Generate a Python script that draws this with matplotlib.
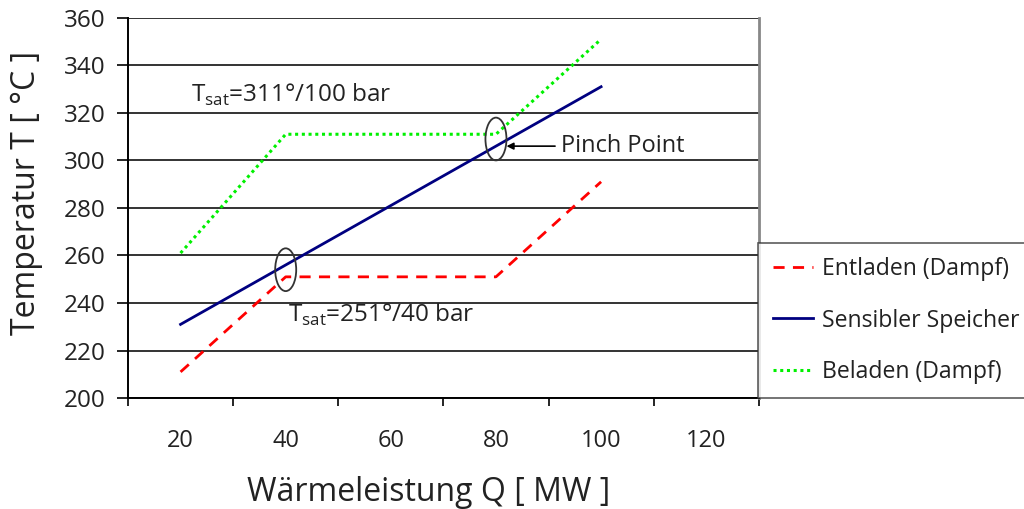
import matplotlib.pyplot as plt
from matplotlib.patches import Ellipse

plt.rcParams['font.family'] = ['Open Sans', 'DejaVu Sans']

# data
q_entladen = [20, 40, 80, 100]
t_entladen = [211, 251, 251, 291]
q_speicher = [20, 100]
t_speicher = [231, 331]
q_beladen = [20, 40, 80, 100]
t_beladen = [261, 311, 311, 351]

x_labels = [20, 40, 60, 80, 100, 120]
y_ticks = [200, 220, 240, 260, 280, 300, 320, 340, 360]

fig = plt.figure(figsize=(10.24, 5.09), dpi=100)
ax = fig.add_axes([0.125, 0.218, 0.616, 0.747])

ax.plot(q_entladen, t_entladen, color="#ff0000", lw=2, ls=(0, (4, 3)),
        label="Entladen (Dampf)", zorder=3)
ax.plot(q_speicher, t_speicher, color="#000080", lw=2,
        label="Sensibler Speicher", zorder=3)
ax.plot(q_beladen, t_beladen, color="#00f000", lw=2.2, ls=(0, (1, 1.2)),
        label="Beladen (Dampf)", zorder=3)

ax.set_xlim(10, 130)
ax.set_ylim(200, 360)
ax.set_yticks(y_ticks)
ax.set_xticks(range(10, 131, 20))
ax.set_xticklabels([])
ax.set_xticks(x_labels, minor=True)
ax.set_xticklabels([str(v) for v in x_labels], minor=True)
ax.tick_params(axis="x", which="minor", length=0, pad=22, labelsize=17)
ax.tick_params(axis="x", which="major", length=6, width=1.2, direction="out")
ax.tick_params(axis="y", length=8, width=1.2, direction="out", labelsize=17.5,
               pad=8)
ax.tick_params(colors="black", which="both", labelcolor="#222222")

ax.yaxis.grid(True, color="#333333", lw=1.4)
ax.set_axisbelow(True)
ax.spines["top"].set_visible(False)
ax.spines["right"].set_color("#888888")
ax.spines["right"].set_linewidth(2)
ax.spines["left"].set_linewidth(1.4)
ax.spines["bottom"].set_linewidth(1.4)

ax.set_xlabel("Wärmeleistung Q [ MW ]", fontsize=23, color="#222222")
ax.set_ylabel("Temperatur T [ °C ]", fontsize=23, color="#222222")
ax.xaxis.set_label_coords(0.476, -0.205)
ax.yaxis.set_label_coords(-0.135, 0.54)

# annotations
ax.add_patch(Ellipse((80, 309), 4, 18, fill=False, ec="#333333", lw=1.3,
                     zorder=4))
ax.add_patch(Ellipse((40, 254), 4, 18, fill=False, ec="#333333", lw=1.3,
                     zorder=4))
ax.annotate("Pinch Point", xy=(82, 306), xytext=(92.3, 306),
            fontsize=17, color="#222222", va="center",
            arrowprops=dict(arrowstyle="-|>", color="black", lw=1.2,
                            mutation_scale=10, shrinkA=2, shrinkB=0))
ax.text(22, 327.5, r"T$_{\mathregular{sat}}$=311°/100 bar", fontsize=17.5,
        color="#222222", va="center")
ax.text(40.5, 235, r"T$_{\mathregular{sat}}$=251°/40 bar", fontsize=17.5,
        color="#222222", va="center")

leg = fig.legend(loc="lower left", bbox_to_anchor=(0.7405, 0.218, 0.27, 0.30),
                 mode="expand", fontsize=16.6, frameon=True, fancybox=False,
                 handlelength=1.75, labelspacing=1.18, borderpad=0.62,
                 handletextpad=0.4, borderaxespad=0)
leg.get_frame().set_edgecolor("#333333")
leg.get_frame().set_linewidth(1.2)
for t in leg.get_texts():
    t.set_color("#222222")

fig.savefig("out.png", dpi=100)
